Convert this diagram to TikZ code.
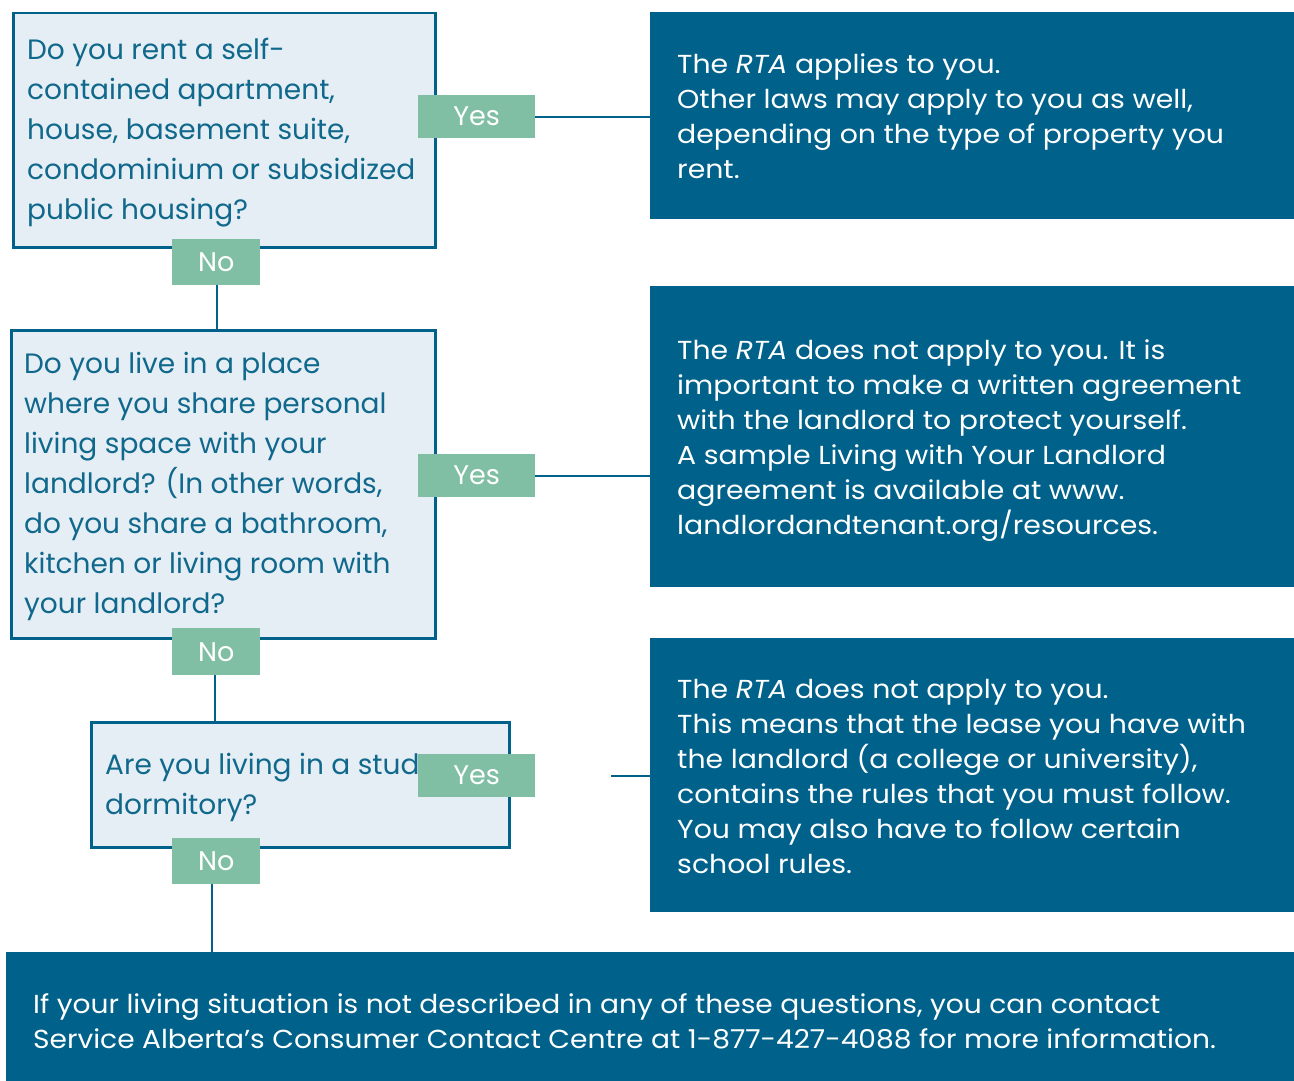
\documentclass[tikz,border=0pt]{standalone}
\usepackage{fontspec}
\setmainfont{Poppins}
\newfontfamily\widefont[FakeStretch=1.09]{Poppins}
\newfontfamily\bottomfont[FakeStretch=1.08]{Poppins}
\definecolor{darkblue}{RGB}{0,98,139}
\definecolor{lightfill}{RGB}{229,238,244}
\definecolor{qtext}{RGB}{16,104,140}
\definecolor{tag}{RGB}{128,191,164}
\tikzset{
  qbox/.style={draw=darkblue, line width=2.5pt, fill=lightfill, anchor=north west, inner sep=0pt},
  abox/.style={fill=darkblue, anchor=north west, inner sep=0pt},
  tagbox/.style={fill=tag, text=white, font=\fontsize{27}{30}\selectfont, inner sep=0pt, anchor=north west},
  qtxt/.style={text=qtext, font=\fontsize{28}{40}\selectfont, align=left, anchor=north west, inner sep=0pt},
  atxt/.style={text=white, font=\widefont\fontsize{26}{35}\selectfont, align=left, anchor=north west, inner sep=0pt},
  btxt/.style={text=white, font=\bottomfont\fontsize{26}{35.5}\selectfont, align=left, anchor=north west, inner sep=0pt},
  link/.style={draw=darkblue, line width=2.5pt}
}
\begin{document}
\begin{tikzpicture}[x=1pt,y=-1pt]
\useasboundingbox (0,0) rectangle (1294,1081);
% answer boxes
\node[abox, minimum width=644, minimum height=207] (a1) at (650,12) {};
\node[abox, minimum width=644, minimum height=301] (a2) at (650,286) {};
\node[abox, minimum width=644, minimum height=274] (a3) at (650,638) {};
\node[abox, minimum width=1288, minimum height=129] (a4) at (6,952) {};
% question boxes
\node[qbox, minimum width=422, minimum height=234] (q1) at (12,12) {};
\node[qbox, minimum width=424, minimum height=308] (q2) at (10,329) {};
\node[qbox, minimum width=418, minimum height=125] (q3) at (90,721) {};
% question texts
\node[qtxt] (q1t) at (27,38) {Do you rent a self-\\contained apartment,\\house, basement suite,\\condominium or subsidized\\public housing?};
\node[qtxt] (q2t) at (24,352) {Do you live in a place\\where you share personal\\living space with your\\landlord? (In other words,\\do you share a bathroom,\\kitchen or living room with\\your landlord?};
\node[qtxt] (q3t) at (105,753) {Are you living in a student\\dormitory?};
% answer texts
\node[atxt] (a1t) at (677,54) {The \textit{RTA} applies to you.\\Other laws may apply to you as well,\\depending on the type of property you\\rent.};
\node[atxt] (a2t) at (677,340) {The \textit{RTA} does not apply to you. It is\\important to make a written agreement\\with the landlord to protect yourself.\\A sample Living with Your Landlord\\agreement is available at www.\\landlordandtenant.org/resources.};
\node[atxt] (a3t) at (677,679) {The \textit{RTA} does not apply to you.\\This means that the lease you have with\\the landlord (a college or university),\\contains the rules that you must follow.\\You may also have to follow certain\\school rules.};
\node[btxt] (a4t) at (33,993) {If your living situation is not described in any of these questions, you can contact\\Service Alberta’s Consumer Contact Centre at 1-877-427-4088 for more information.};
% connectors
\coordinate (c3) at (611,776);
\draw[link] (535,117) -- (a1.west |- 0,117);
\draw[link] (535,476) -- (a2.west |- 0,476);
\draw[link] (c3) -- (a3.west |- c3);
\draw[link] (217,285) -- (217,329);
\draw[link] (215,675) -- (215,721);
\draw[link] (212,884) -- (212,952);
% tags
\node[tagbox, minimum width=117, minimum height=43] (y1) at (418,95) {Yes};
\node[tagbox, minimum width=117, minimum height=43] (y2) at (418,454) {Yes};
\node[tagbox, minimum width=117, minimum height=43] (y3) at (418,754) {Yes};
\node[tagbox, minimum width=88, minimum height=46] (n1) at (172,239) {No};
\node[tagbox, minimum width=88, minimum height=47] (n2) at (172,628) {No};
\node[tagbox, minimum width=88, minimum height=46] (n3) at (172,838) {No};
\end{tikzpicture}
\end{document}
